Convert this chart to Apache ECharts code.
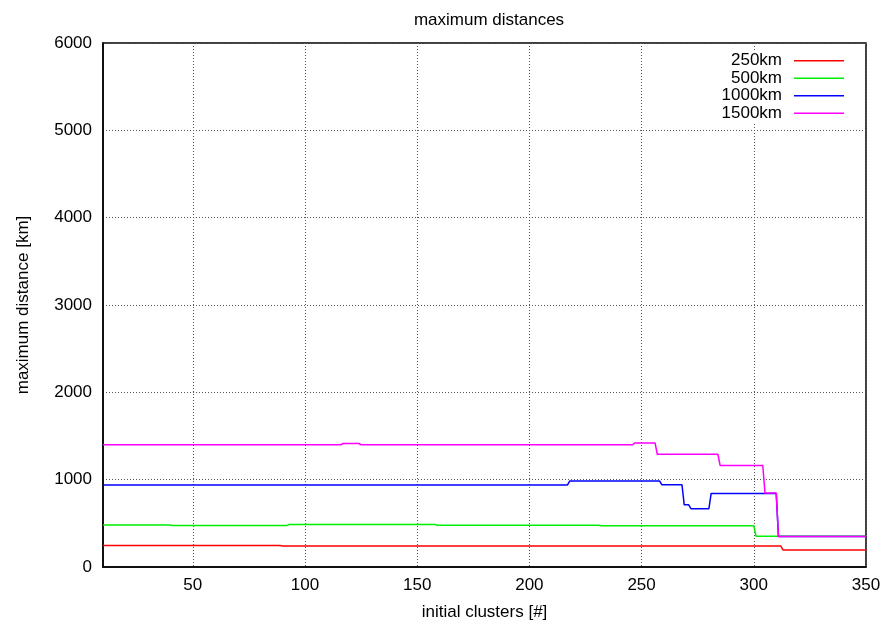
<!DOCTYPE html>
<html>
<head>
<meta charset="utf-8">
<script src="https://cdn.jsdelivr.net/npm/echarts@6/dist/echarts.min.js"></script>
<style>
  html, body { margin: 0; padding: 0; background: #fff; }
  #chart { width: 887px; height: 626px; }
</style>
</head>
<body>
<div id="chart"></div>
<script>
// Breakpoints of each step-like curve: initial clusters -> maximum distance [km]
const seriesNames = ['250km', '500km', '1000km', '1500km'];
const seriesColors = ['#ff0000', '#00ee00', '#0000ff', '#ff00ff'];

const x250 = [10, 89, 90, 312, 313, 350];
const y250 = [245, 245, 241, 241, 195, 195];

const x500 = [10, 40, 41, 92, 93, 158, 159, 231, 232, 300, 301, 350];
const y500 = [480, 480, 476, 476, 487, 487, 478, 478, 472, 472, 352, 352];

const x1000 = [10, 217, 218, 258, 259, 268, 269, 271, 272, 280, 281, 310, 311, 350];
const y1000 = [940, 940, 985, 985, 942, 942, 712, 712, 667, 667, 843, 843, 348, 348];

const x1500 = [10, 116, 117, 124, 125, 246, 247, 256, 257, 284, 285, 304, 305, 310, 311, 350];
const y1500 = [1400, 1400, 1414, 1414, 1400, 1400, 1421, 1421, 1291, 1291, 1162, 1162, 846, 846, 348, 348];

const yTicks = [0, 1000, 2000, 3000, 4000, 5000, 6000];

const pairs = (xs, ys) => xs.map((x, i) => [x, ys[i]]);
const curves = [pairs(x250, y250), pairs(x500, y500), pairs(x1000, y1000), pairs(x1500, y1500)];

const font = 'Liberation Sans, Arial, Helvetica, sans-serif';
const chart = echarts.init(document.getElementById('chart'), null, { renderer: 'canvas' });

chart.setOption({
  animation: false,
  backgroundColor: '#fff',
  title: {
    text: 'maximum distances',
    left: 484, top: 7, textAlign: 'center',
    textStyle: { fontFamily: font, fontSize: 17, fontWeight: 'normal', color: '#000' }
  },
  legend: {
    orient: 'vertical',
    right: 22, top: 50,
    align: 'right',
    padding: [2, 21, 0, 6],
    backgroundColor: '#fff',
    itemWidth: 50, itemHeight: 14, itemGap: 0,
    icon: 'path://M0,0 L50,0 L50,1.6 L0,1.6 Z',
    textStyle: { fontFamily: font, fontSize: 17, lineHeight: 17.5, color: '#000', padding: [0, 7, 0, 0] },
    data: seriesNames.map((n, i) => ({ name: n, itemStyle: { color: seriesColors[i] } }))
  },
  grid: {
    left: 103, right: 21, top: 43, bottom: 58,
    show: true, borderColor: '#000', borderWidth: 1.5, backgroundColor: 'transparent'
  },
  xAxis: {
    type: 'value', min: 10, max: 350, splitNumber: 5,
    name: 'initial clusters [#]', nameLocation: 'middle', nameGap: 37,
    nameTextStyle: { fontFamily: font, fontSize: 17, color: '#000' },
    axisLine: { show: true, lineStyle: { color: '#000', width: 1.5 } },
    axisTick: { show: false },
    axisLabel: { showMinLabel: false, margin: 10, fontFamily: font, fontSize: 17, color: '#000' },
    splitLine: { show: true, lineStyle: { color: '#555', type: [1, 2], width: 1 } }
  },
  yAxis: {
    type: 'value', min: yTicks[0], max: yTicks[yTicks.length - 1], interval: 1000,
    name: 'maximum distance [km]', nameLocation: 'middle', nameGap: 71,
    nameTextStyle: { fontFamily: font, fontSize: 17, color: '#000' },
    axisLine: { show: true, lineStyle: { color: '#000', width: 1.5 } },
    axisTick: { show: false },
    axisLabel: { margin: 11, fontFamily: font, fontSize: 17, color: '#000', formatter: v => String(v) },
    splitLine: { show: true, lineStyle: { color: '#555', type: [1, 2], width: 1 } }
  },
  series: curves.map((data, i) => ({
    name: seriesNames[i],
    type: 'line',
    data: data,
    symbol: 'none',
    showSymbol: false,
    color: seriesColors[i],
    lineStyle: { color: seriesColors[i], width: 1.5 },
    z: 2 + i
  }))
});
</script>
</body>
</html>
